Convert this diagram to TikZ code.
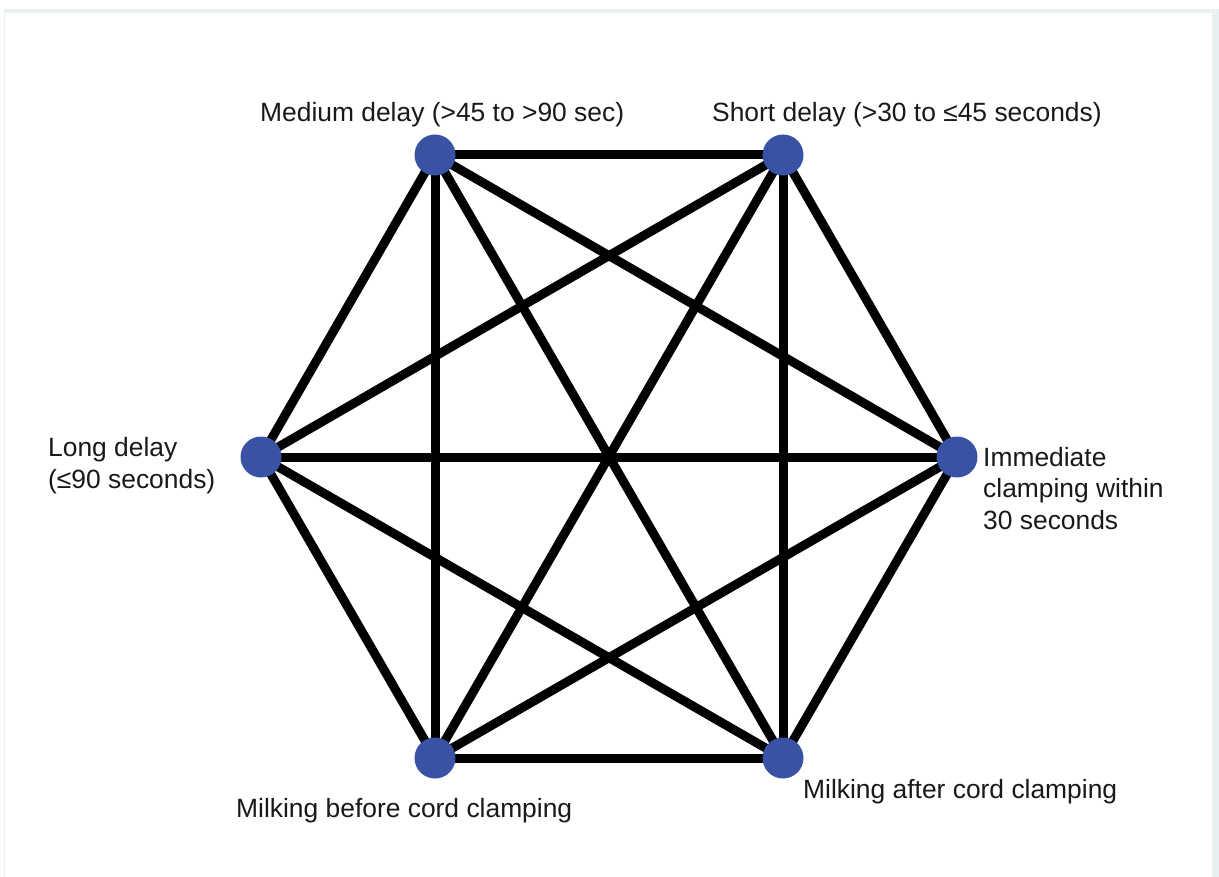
\documentclass[tikz,border=0pt]{standalone}
\usepackage{fontspec}
\setmainfont{Liberation Sans}
\definecolor{nodeblue}{RGB}{58,82,164}
\definecolor{framegray}{RGB}{232,240,242}
\begin{document}
\begin{tikzpicture}[x=1pt,y=-1pt,
  vertex/.style={circle,fill=nodeblue,draw=none,minimum size=41pt,inner sep=0pt},
  edge/.style={line width=9pt,black},
  lbl/.style={font=\fontsize{26.4}{31.5}\selectfont,inner sep=0pt,align=left,text=black!90}]
  % page and thin frame
  \useasboundingbox (0,0) rectangle (1219,877);
  \fill[white] (0,0) rectangle (1219,877);
  \fill[framegray] (4,9) rectangle (1219,877);
  \fill[white] (5,13) rectangle (1212,877);

  % treatment vertices
  \coordinate (med) at (435,155);
  \coordinate (sho) at (783,155);
  \coordinate (lon) at (261,457);
  \coordinate (imm) at (957,457);
  \coordinate (mbc) at (435,758);
  \coordinate (mac) at (783,758);

  % every pair of treatments is compared directly
  \foreach \a/\b in {med/sho,med/lon,med/imm,med/mbc,med/mac,
                     sho/lon,sho/imm,sho/mbc,sho/mac,
                     lon/imm,lon/mbc,lon/mac,
                     imm/mbc,imm/mac,
                     mbc/mac}
    \draw[edge] (\a) -- (\b);

  \node[vertex] (nmed) at (med) {};
  \node[vertex] (nsho) at (sho) {};
  \node[vertex] (nlon) at (lon) {};
  \node[vertex] (nimm) at (imm) {};
  \node[vertex] (nmbc) at (mbc) {};
  \node[vertex] (nmac) at (mac) {};

  % labels (multi-line ones are placed by the baseline of their last line)
  \node[lbl,anchor=base west] (tmed) at (260,122) {Medium delay (>45 to >90 sec)};
  \node[lbl,anchor=base west] (tsho) at (712,122) {Short delay (>30 to ≤45 seconds)};
  \node[lbl,anchor=base west] (tlon) at (48,488) {Long delay\\(≤90 seconds)};
  \node[lbl,anchor=base west] (timm) at (983,529) {Immediate\\clamping within\\30 seconds};
  \node[lbl,anchor=base west] (tmbc) at (236,817) {Milking before cord clamping};
  \node[lbl,anchor=base west] (tmac) at (803,798) {Milking after cord clamping};
\end{tikzpicture}
\end{document}
